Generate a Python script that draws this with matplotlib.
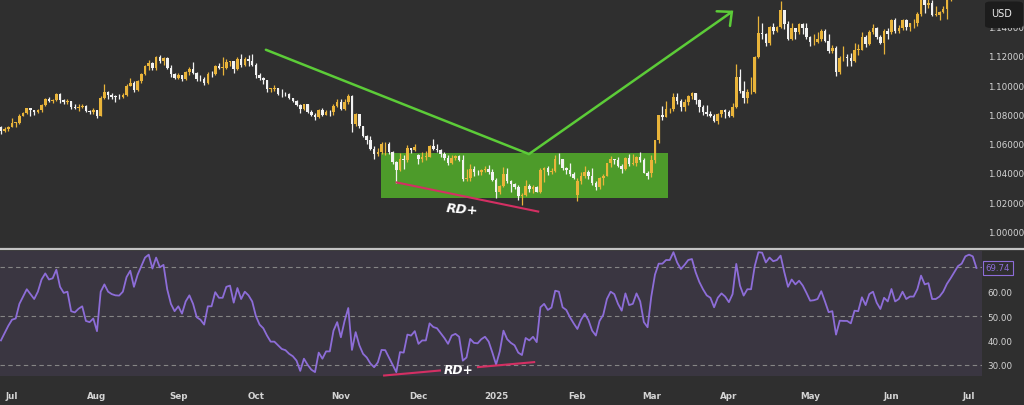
import numpy as np
import pandas as pd
import matplotlib
matplotlib.use("Agg")
import matplotlib.pyplot as plt
from matplotlib.patches import Rectangle, FancyBboxPatch
from matplotlib.lines import Line2D

# ---------------- data ----------------
dates = pd.bdate_range("2024-06-26", "2025-07-03")
dates = dates[~dates.isin(pd.to_datetime(["2024-12-25", "2025-01-01"]))]

opens = [
 1.0713,1.0683,1.0701,1.0713,1.0741,1.0743,1.0791,1.0810,1.0841,1.0826,
 1.0813,1.0830,1.0866,1.0907,1.0894,1.0897,1.0938,1.0898,1.0883,1.0890,
 1.0848,1.0843,1.0849,1.0857,1.0822,1.0817,1.0826,1.0789,1.0911,1.0955,
 1.0930,1.0921,1.0918,1.0917,1.0932,1.0993,1.1012,1.0968,1.1027,1.1076,
 1.1130,1.1151,1.1115,1.1192,1.1163,1.1184,1.1119,1.1077,1.1048,1.1069,
 1.1043,1.1090,1.1111,1.1085,1.1039,1.1038,1.1012,1.1077,1.1075,1.1132,
 1.1117,1.1117,1.1160,1.1164,1.1112,1.1180,1.1134,1.1178,1.1165,1.1135,
 1.1068,1.1046,1.1031,1.0973,1.0975,1.0977,1.0939,1.0938,1.0936,1.0910,
 1.0891,1.0860,1.0833,1.0867,1.0817,1.0797,1.0782,1.0828,1.0797,1.0816,
 1.0815,1.0856,1.0884,1.0833,1.0881,1.0928,1.0731,1.0800,1.0718,1.0654,
 1.0623,1.0563,1.0529,1.0541,1.0596,1.0596,1.0545,1.0473,1.0418,1.0496,
 1.0488,1.0568,1.0554,1.0520,1.0497,1.0510,1.0511,1.0586,1.0566,1.0554,
 1.0528,1.0502,1.0467,1.0502,1.0512,1.0490,1.0355,1.0363,1.0428,1.0407,
 1.0402,1.0422,1.0428,1.0406,1.0354,1.0266,1.0308,1.0389,1.0342,1.0320,
 1.0300,1.0243,1.0245,1.0308,1.0289,1.0302,1.0272,1.0416,1.0433,1.0406,
 1.0415,1.0495,1.0494,1.0430,1.0421,1.0389,1.0250,1.0346,1.0381,1.0404,
 1.0381,1.0330,1.0306,1.0362,1.0381,1.0466,1.0492,1.0484,1.0446,1.0424,
 1.0500,1.0459,1.0465,1.0511,1.0487,1.0398,1.0400,1.0486,1.0626,1.0792,
 1.0783,1.0833,1.0834,1.0917,1.0890,1.0853,1.0881,1.0923,1.0944,1.0900,
 1.0853,1.0815,1.0803,1.0790,1.0753,1.0800,1.0826,1.0815,1.0791,1.0853,
 1.1052,1.0962,1.0910,1.0950,1.0950,1.1193,1.1357,1.1346,1.1284,1.1398,
 1.1366,1.1395,1.1510,1.1417,1.1312,1.1390,1.1365,1.1420,1.1389,1.1328,
 1.1292,1.1297,1.1314,1.1369,1.1303,1.1232,1.1253,1.1089,1.1183,1.1187,
 1.1185,1.1164,1.1241,1.1241,1.1328,1.1282,1.1364,1.1389,1.1325,1.1290,
 1.1369,1.1360,1.1442,1.1372,1.1387,1.1444,1.1396,1.1421,1.1422,1.1487,
 1.1584,1.1549,1.1562,1.1479,1.1480,1.1496,1.1523,1.1580,1.1610,1.1661,
 1.1701,1.1718,1.1787,1.1803,1.1799]

highs = [
 1.0722,1.0713,1.0719,1.0776,1.0749,1.0799,1.0817,1.0844,1.0845,1.0828,
 1.0834,1.0871,1.0910,1.0921,1.0906,1.0948,1.0944,1.0907,1.0904,1.0892,
 1.0868,1.0869,1.0871,1.0860,1.0830,1.0845,1.0829,1.0926,1.1009,1.0962,
 1.0948,1.0930,1.0936,1.0943,1.1004,1.1047,1.1028,1.1034,1.1085,1.1140,
 1.1174,1.1156,1.1201,1.1202,1.1193,1.1190,1.1139,1.1083,1.1084,1.1071,
 1.1093,1.1122,1.1155,1.1086,1.1066,1.1055,1.1087,1.1096,1.1139,1.1150,
 1.1189,1.1179,1.1167,1.1167,1.1189,1.1214,1.1190,1.1202,1.1209,1.1148,
 1.1083,1.1055,1.1036,1.0983,1.0997,1.0983,1.0972,1.0951,1.0942,1.0912,
 1.0898,1.0872,1.0869,1.0872,1.0829,1.0809,1.0836,1.0842,1.0828,1.0829,
 1.0870,1.0905,1.0905,1.0903,1.0937,1.0933,1.0811,1.0803,1.0721,1.0660,
 1.0653,1.0581,1.0569,1.0609,1.0610,1.0608,1.0550,1.0478,1.0535,1.0521,
 1.0589,1.0570,1.0597,1.0531,1.0544,1.0546,1.0588,1.0630,1.0594,1.0560,
 1.0540,1.0522,1.0524,1.0524,1.0522,1.0519,1.0425,1.0458,1.0444,1.0417,
 1.0429,1.0444,1.0456,1.0424,1.0366,1.0318,1.0437,1.0434,1.0353,1.0330,
 1.0315,1.0262,1.0353,1.0320,1.0318,1.0312,1.0435,1.0437,1.0447,1.0433,
 1.0520,1.0533,1.0497,1.0439,1.0467,1.0405,1.0363,1.0402,1.0443,1.0417,
 1.0431,1.0344,1.0371,1.0392,1.0469,1.0513,1.0492,1.0505,1.0463,1.0505,
 1.0528,1.0528,1.0515,1.0545,1.0502,1.0414,1.0524,1.0627,1.0797,1.0854,
 1.0889,1.0845,1.0947,1.0944,1.0906,1.0906,1.0929,1.0955,1.0944,1.0903,
 1.0860,1.0861,1.0825,1.0804,1.0810,1.0832,1.0835,1.0826,1.0880,1.1144,
 1.1108,1.1030,1.0970,1.1055,1.1195,1.1474,1.1425,1.1356,1.1404,1.1422,
 1.1401,1.1573,1.1512,1.1440,1.1421,1.1393,1.1426,1.1424,1.1424,1.1338,
 1.1350,1.1361,1.1381,1.1381,1.1346,1.1275,1.1265,1.1195,1.1266,1.1212,
 1.1217,1.1287,1.1278,1.1363,1.1345,1.1376,1.1419,1.1399,1.1344,1.1384,
 1.1387,1.1454,1.1455,1.1409,1.1454,1.1449,1.1426,1.1448,1.1497,1.1631,
 1.1614,1.1590,1.1578,1.1537,1.1506,1.1537,1.1585,1.1641,1.1678,1.1715,
 1.1754,1.1789,1.1830,1.1809,1.1830]

lows = [
 1.0666,1.0677,1.0687,1.0710,1.0710,1.0734,1.0785,1.0803,1.0791,1.0797,
 1.0806,1.0815,1.0856,1.0884,1.0875,1.0893,1.0880,1.0873,1.0873,1.0839,
 1.0838,1.0825,1.0846,1.0813,1.0802,1.0801,1.0777,1.0785,1.0904,1.0907,
 1.0902,1.0886,1.0907,1.0908,1.0922,1.0992,1.0950,1.0960,1.1013,1.1066,
 1.1104,1.1101,1.1104,1.1152,1.1134,1.1111,1.1058,1.1039,1.1042,1.1026,
 1.1033,1.1071,1.1077,1.1025,1.1025,1.1002,1.1004,1.1058,1.1069,1.1108,
 1.1069,1.1108,1.1131,1.1081,1.1100,1.1122,1.1132,1.1129,1.1127,1.1045,
 1.1032,1.1006,1.0950,1.0954,1.0957,1.0935,1.0918,1.0928,1.0906,1.0882,
 1.0858,1.0811,1.0826,1.0811,1.0787,1.0761,1.0776,1.0787,1.0792,1.0787,
 1.0797,1.0847,1.0830,1.0830,1.0873,1.0682,1.0719,1.0707,1.0646,1.0595,
 1.0557,1.0497,1.0517,1.0526,1.0522,1.0528,1.0462,1.0332,1.0410,1.0424,
 1.0473,1.0534,1.0550,1.0460,1.0472,1.0490,1.0506,1.0557,1.0539,1.0508,
 1.0485,1.0452,1.0460,1.0490,1.0478,1.0343,1.0344,1.0343,1.0380,1.0386,
 1.0384,1.0405,1.0394,1.0345,1.0226,1.0255,1.0300,1.0333,1.0270,1.0287,
 1.0211,1.0178,1.0240,1.0268,1.0265,1.0266,1.0265,1.0336,1.0386,1.0390,
 1.0408,1.0458,1.0422,1.0395,1.0380,1.0358,1.0205,1.0320,1.0366,1.0355,
 1.0314,1.0284,1.0286,1.0319,1.0376,1.0441,1.0460,1.0440,1.0401,1.0418,
 1.0448,1.0452,1.0446,1.0476,1.0396,1.0360,1.0370,1.0467,1.0603,1.0762,
 1.0780,1.0808,1.0824,1.0872,1.0825,1.0822,1.0862,1.0907,1.0870,1.0818,
 1.0798,1.0787,1.0778,1.0745,1.0733,1.0778,1.0776,1.0778,1.0778,1.0845,
 1.0948,1.0875,1.0874,1.0941,1.0947,1.1184,1.1314,1.1264,1.1273,1.1352,
 1.1363,1.1390,1.1380,1.1306,1.1306,1.1315,1.1348,1.1346,1.1316,1.1266,
 1.1273,1.1290,1.1300,1.1293,1.1218,1.1219,1.1065,1.1074,1.1167,1.1129,
 1.1131,1.1155,1.1208,1.1240,1.1258,1.1272,1.1351,1.1315,1.1277,1.1210,
 1.1313,1.1346,1.1357,1.1353,1.1373,1.1373,1.1370,1.1393,1.1406,1.1473,
 1.1489,1.1528,1.1469,1.1471,1.1446,1.1489,1.1451,1.1571,1.1589,1.1647,
 1.1663,1.1703,1.1741,1.1760,1.1736]

closes = [
 1.0683,1.0701,1.0713,1.0741,1.0743,1.0791,1.0810,1.0841,1.0826,1.0813,
 1.0830,1.0866,1.0907,1.0894,1.0897,1.0938,1.0898,1.0883,1.0890,1.0848,
 1.0843,1.0849,1.0857,1.0822,1.0817,1.0826,1.0789,1.0911,1.0955,1.0930,
 1.0921,1.0918,1.0917,1.0932,1.0993,1.1012,1.0968,1.1027,1.1076,1.1130,
 1.1151,1.1115,1.1192,1.1163,1.1184,1.1119,1.1077,1.1048,1.1069,1.1043,
 1.1090,1.1111,1.1085,1.1039,1.1038,1.1012,1.1077,1.1075,1.1132,1.1117,
 1.1117,1.1160,1.1164,1.1112,1.1180,1.1134,1.1178,1.1165,1.1135,1.1068,
 1.1046,1.1031,1.0973,1.0975,1.0977,1.0939,1.0938,1.0936,1.0910,1.0891,
 1.0860,1.0833,1.0867,1.0817,1.0797,1.0782,1.0828,1.0797,1.0816,1.0815,
 1.0856,1.0884,1.0833,1.0881,1.0928,1.0731,1.0800,1.0718,1.0654,1.0623,
 1.0563,1.0529,1.0541,1.0596,1.0596,1.0545,1.0473,1.0418,1.0496,1.0488,
 1.0568,1.0554,1.0578,1.0497,1.0510,1.0511,1.0586,1.0566,1.0554,1.0528,
 1.0502,1.0467,1.0502,1.0512,1.0490,1.0355,1.0363,1.0428,1.0407,1.0402,
 1.0422,1.0428,1.0406,1.0354,1.0266,1.0308,1.0389,1.0342,1.0320,1.0300,
 1.0243,1.0245,1.0308,1.0289,1.0302,1.0272,1.0416,1.0433,1.0406,1.0415,
 1.0495,1.0494,1.0430,1.0421,1.0389,1.0362,1.0346,1.0381,1.0404,1.0381,
 1.0330,1.0306,1.0362,1.0381,1.0466,1.0492,1.0484,1.0446,1.0424,1.0500,
 1.0459,1.0465,1.0511,1.0487,1.0398,1.0376,1.0486,1.0626,1.0792,1.0783,
 1.0833,1.0834,1.0917,1.0890,1.0853,1.0881,1.0923,1.0944,1.0900,1.0853,
 1.0815,1.0803,1.0790,1.0753,1.0800,1.0826,1.0815,1.0791,1.0853,1.1052,
 1.0962,1.0910,1.0950,1.0950,1.1193,1.1357,1.1346,1.1284,1.1398,1.1366,
 1.1395,1.1510,1.1417,1.1312,1.1390,1.1365,1.1420,1.1389,1.1328,1.1292,
 1.1297,1.1314,1.1369,1.1303,1.1232,1.1253,1.1089,1.1183,1.1187,1.1185,
 1.1164,1.1241,1.1241,1.1328,1.1282,1.1364,1.1389,1.1325,1.1290,1.1369,
 1.1347,1.1442,1.1372,1.1387,1.1444,1.1396,1.1421,1.1422,1.1487,1.1584,
 1.1549,1.1562,1.1479,1.1480,1.1496,1.1523,1.1580,1.1610,1.1661,1.1701,
 1.1718,1.1787,1.1803,1.1799,1.1758]

rsi = [
 40,43,46,48.5,49,55,58,61,59,57,
 60,65,67.5,65,65.5,69,62,59.5,60,52,
 51.5,53,54,48,47.5,49,43.8,60,63,60,
 59,58.5,58.4,60,66,68.6,62,67,70.5,74,
 75.2,69.5,74,70,71,61,55,52,54,51,
 56,58.5,55,49.5,48.5,46.5,54,54,59.8,57.5,
 57.5,62,62.5,55.5,61.5,57,60,58.5,56,50,
 46.5,45,42,39.5,39.5,38,36.5,36,34.5,33.5,
 31.7,27.5,32.5,30,28,27,35,32.5,35.5,35.5,
 44,47.5,41.3,48,53.3,36.1,43.4,38,34.5,33,
 30.5,29,31,36.1,36,33,30,27,35.2,35,
 42.4,42,43.8,38.6,40,40,47,45.5,45,43,
 41,38.6,42,42.7,41.5,31.7,33,40.6,39,38.8,
 40.5,41.5,39.5,35,30.1,35.5,44,40.5,39,38,
 35,34,41,40,41.5,39.3,53.6,55,52.5,53.5,
 60.4,60,53.6,52.5,49.5,47,44.7,48.5,50.9,48.3,
 44,42,48,50.5,57,60,59,55,52.2,59.3,
 54.5,55,59.3,56,47.5,45.4,58,67,71.5,71.5,
 73,73,76.2,72,69.3,71,73,73.4,68,64,
 61,58.5,57.5,53.6,57.5,59.3,58,55.7,59,71.4,
 62.5,58.4,61,61,70.5,76.2,76,72,74,72.5,
 73,74.8,68,62,65,63,64.5,62.5,59.5,56.3,
 56.5,57,60.2,56,51.6,52,42.4,48.1,48,48,
 47,52.2,52,57.7,54.5,59,60,55.5,52.9,57.5,
 56,61.1,56,57,60,57,58,58,61,66.6,
 63,63.5,57,57,58,60,63.2,65.5,68,70.5,
 71.5,74.5,75.2,74.5,69.74]

price_ticks = [1.00, 1.02, 1.04, 1.06, 1.08, 1.10, 1.12, 1.14]
rsi_ticks = [30, 40, 50, 60]
rsi_levels = [70, 50, 30]
rsi_last = 69.74

# annotations (bar index, price / rsi value)
down_line = ([71.7, 142.9], [1.1241, 1.0528])
up_arrow = ([142.9, 197.8], [1.0528, 1.1500])
arrow_head = ([193.7, 197.8, 197.3], [1.1504, 1.1500, 1.1404])
zone = (102.9, 180.5, 1.0231, 1.0533)
rd_price = ([107.1, 145.4], [1.0334, 1.0135])
rd_price_label = (124.8, 1.0150)
rd_rsi_a = ([103.7, 118.8], [25.6, 27.65])
rd_rsi_b = ([129.1, 144.3], [29.04, 31.1])
rd_rsi_label = (123.9, 28.1)

n = len(closes)
assert len(opens) == len(highs) == len(lows) == len(rsi) == len(dates) == n

# ---------------- style ----------------
BG = "#2f2f2f"
RSI_BG = "#3a3641"
UP = "#e9b43a"
DN = "#f2f2f2"
GREEN = "#5ccc38"
BOX = "#4d9b2a"
RED = "#d42f63"
PURPLE = "#8d6dd8"
TXT = "#d4d4d4"

W, H = 1024, 406
fig = plt.figure(figsize=(W / 100, H / 100), dpi=100)
fig.patch.set_facecolor(BG)


def frac(x0, y0, x1, y1):
    return [x0 / W, 1 - y1 / H, (x1 - x0) / W, (y1 - y0) / H]


ax = fig.add_axes(frac(0, 0, 982, 247))
axr = fig.add_axes(frac(0, 252, 982, 377), sharex=ax)
ax.set_facecolor(BG)
axr.set_facecolor(RSI_BG)
for a in (ax, axr):
    for s in a.spines.values():
        s.set_visible(False)

x = np.arange(n)
o, h, l, c = map(np.array, (opens, highs, lows, closes))
cols = np.where(c >= o, UP, DN)

ax.vlines(x, l, h, colors=cols, lw=0.9, zorder=3)
ax.bar(x, np.maximum(np.abs(c - o), 0.00035), bottom=np.minimum(o, c),
       width=0.7, color=cols, linewidth=0, zorder=4)

ax.add_patch(Rectangle((zone[0], zone[2]), zone[1] - zone[0], zone[3] - zone[2],
                       facecolor=BOX, edgecolor="none", zorder=1))
ax.plot(*down_line, color=GREEN, lw=1.8, zorder=5, solid_capstyle="round")
ax.plot(*up_arrow, color=GREEN, lw=1.8, zorder=5, solid_capstyle="round")
ax.plot(*arrow_head, color=GREEN, lw=1.8, zorder=5, solid_capstyle="round",
        solid_joinstyle="miter")
ax.plot(*rd_price, color=RED, lw=1.5, zorder=5)
ax.text(*rd_price_label, "RD+", color="white", fontsize=9.5, fontweight="bold",
        fontstyle="italic", ha="center", va="center", rotation=-5, zorder=6)

ax.set_xlim(-0.25, 265.5)
ax.set_ylim(0.98995, 1.1588)
ax.yaxis.tick_right()
ax.set_yticks(price_ticks)
ax.set_yticklabels([f"{v:.5f}" for v in price_ticks])
ax.tick_params(axis="y", length=0, pad=4, labelsize=6.3, labelcolor=TXT)
ax.tick_params(axis="x", length=0, labelbottom=False)

# RSI pane
axr.plot(x, rsi, color=PURPLE, lw=1.3, zorder=3)
for lv in rsi_levels:
    axr.axhline(lv, color="#858585", lw=0.8, dashes=(4, 3), zorder=1)
axr.plot(*rd_rsi_a, color=RED, lw=1.5, zorder=5, clip_on=False)
axr.plot(*rd_rsi_b, color=RED, lw=1.5, zorder=5, clip_on=False)
axr.text(*rd_rsi_label, "RD+", color="white", fontsize=8.8, fontweight="bold",
         fontstyle="italic", ha="center", va="center", zorder=6, clip_on=False)
axr.set_ylim(25.4, 76.7)
axr.yaxis.tick_right()
axr.set_yticks(rsi_ticks)
axr.set_yticklabels([f"{v:.2f}" for v in rsi_ticks])
axr.tick_params(axis="y", length=0, pad=4, labelsize=6.3, labelcolor=TXT)
axr.text(1.0163, rsi_last, f"{rsi_last:.2f}", transform=axr.get_yaxis_transform(),
         ha="center", va="center", color=PURPLE, fontsize=6.2, clip_on=False,
         bbox=dict(boxstyle="square,pad=0.3", fc=BG, ec=PURPLE, lw=0.8))

months = dates.to_period("M")
first = [i for i in range(1, n) if months[i] != months[i - 1]]
mlabels = ["2025" if dates[i].month == 1 else dates[i].strftime("%b") for i in first]
axr.set_xticks(first)
axr.set_xticklabels(mlabels, fontweight="bold")
axr.tick_params(axis="x", length=0, pad=11, labelsize=6.3, labelcolor=TXT)

# separator and currency badge
fig.add_artist(Line2D([0, 1], [1 - 249.5 / H] * 2, color="#c4c4c4", lw=1.6,
                      transform=fig.transFigure))
badge = FancyBboxPatch((985 / W, 1 - 29 / H), 38 / W, 26.5 / H,
                       boxstyle="round,pad=0,rounding_size=0.006",
                       transform=fig.transFigure, facecolor="#1c1c1c",
                       edgecolor="none", zorder=10)
fig.add_artist(badge)
fig.text(1002 / W, 1 - 14 / H, "USD", color="#ececec", fontsize=7,
         ha="center", va="center", zorder=11)

fig.savefig("out.png", dpi=100, facecolor=BG)
